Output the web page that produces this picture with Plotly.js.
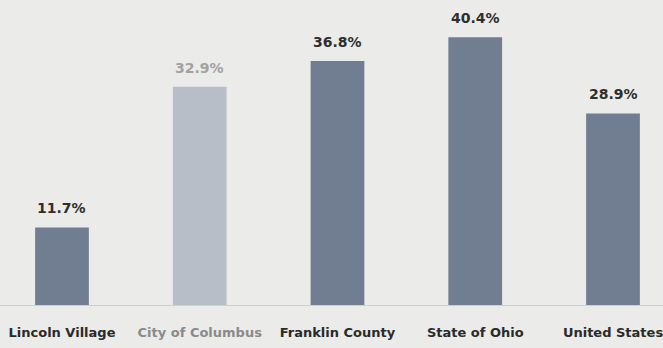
<!DOCTYPE html>
<html>
<head>
<meta charset="utf-8">
<script src="https://cdn.plot.ly/plotly-3.0.1.min.js"></script>
<style>html,body{margin:0;padding:0;background:#ebebe9;}#chart{width:663px;height:348px;}</style>
</head>
<body>
<div id="chart"></div>
<script>
const categories = ["Lincoln Village", "City of Columbus", "Franklin County", "State of Ohio", "United States"];
const values = [11.7, 32.9, 36.8, 40.4, 28.9];
const valueLabels = ["11.7%", "32.9%", "36.8%", "40.4%", "28.9%"];
const barColors = ["#717d91", "#b7bec8", "#717d91", "#717d91", "#717d91"];
const labelColors = ["#2e2e2e", "#a2a2a2", "#2e2e2e", "#2e2e2e", "#2e2e2e"];
const tickColors = ["#2a2a2a", "#8a8a8a", "#2a2a2a", "#2a2a2a", "#2a2a2a"];

const trace = {
  type: "bar",
  x: categories,
  y: values,
  marker: {color: barColors},
  width: 0.39,
  hoverinfo: "none"
};

const annotations = categories.map((c, i) => ({
  x: c, y: values[i], xref: "x", yref: "y",
  text: "<b>" + valueLabels[i] + "</b>",
  showarrow: false, yanchor: "bottom", yshift: 9,
  font: {family: "DejaVu Sans, sans-serif", size: 14, color: labelColors[i]}
}));

const layout = {
  width: 663, height: 348,
  margin: {l: 0, r: 0, t: 0, b: 43},
  paper_bgcolor: "#ebebe9",
  plot_bgcolor: "#ebebe9",
  showlegend: false,
  xaxis: {
    type: "category",
    range: [-0.45, 4.363],
    tickmode: "array",
    tickvals: categories,
    ticktext: categories.map((c, i) => "<b><span style='color:" + tickColors[i] + "'>" + c + "</span></b>"),
    tickfont: {family: "DejaVu Sans, sans-serif", size: 13, color: "#2a2a2a"},
    ticks: "", ticklabelstandoff: 15,
    showline: true, linecolor: "#cfcfcd", linewidth: 1,
    showgrid: false, zeroline: false, fixedrange: true
  },
  yaxis: {
    range: [0, 46], visible: false, showgrid: false, zeroline: false, fixedrange: true
  },
  annotations: annotations
};

Plotly.newPlot("chart", [trace], layout, {displayModeBar: false, staticPlot: true});
</script>
</body>
</html>
